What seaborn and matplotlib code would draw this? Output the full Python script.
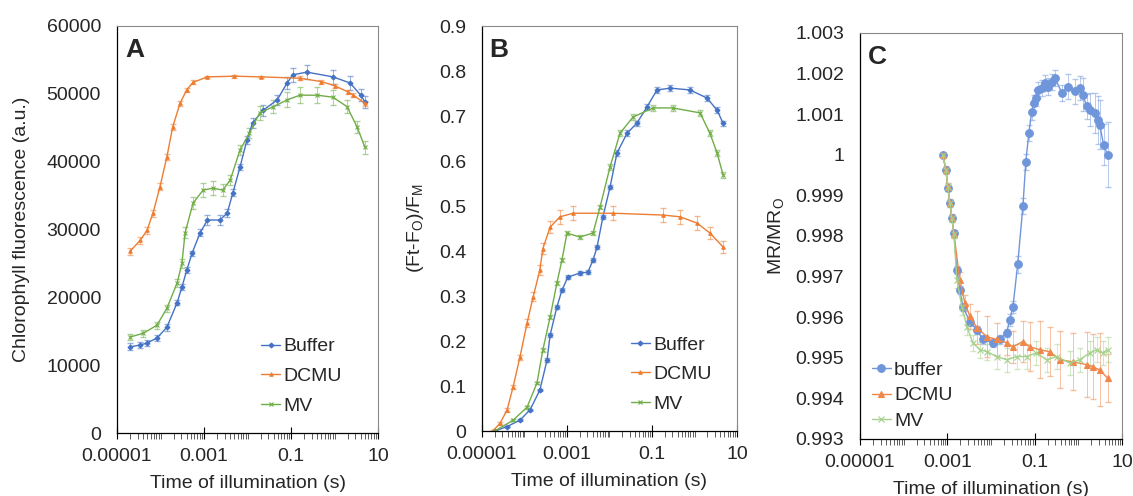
import numpy as np
import pandas as pd
import seaborn as sns
import matplotlib
matplotlib.use("Agg")
from matplotlib import pyplot as plt
from matplotlib import ticker

# ---- panel A : chlorophyll fluorescence (a.u.) ----
t_a_buffer = [2.0e-5, 3.4e-5, 4.9e-5, 8.3e-5, 1.4e-4, 2.4e-4, 3.1e-4, 4.0e-4, 5.3e-4, 8.1e-4,
              1.2e-3, 2.3e-3, 3.4e-3, 4.6e-3, 6.7e-3, 9.7e-3, 1.3e-2, 2.3e-2, 4.8e-2, 8.1e-2,
              0.11, 0.23, 0.92, 2.27, 4.0, 5.0]
a_buffer = [12700, 12970, 13270, 14000, 15600, 19200, 21500, 24000, 26500, 29500,
            31400, 31400, 32400, 35400, 39200, 43200, 45700, 47600, 49100, 51600,
            52800, 53200, 52500, 51600, 49800, 48800]
a_buffer_err = [500, 500, 500, 500, 500, 400, 400, 400, 400, 500,
                700, 700, 600, 500, 500, 600, 700, 800, 800, 900,
                1000, 1000, 1000, 1000, 900, 900]

t_a_dcmu = [2.0e-5, 3.4e-5, 4.9e-5, 6.7e-5, 9.7e-5, 1.4e-4, 1.9e-4, 2.8e-4, 4.0e-4, 5.6e-4,
            1.2e-3, 5.0e-3, 2.0e-2, 0.16, 0.5, 1.0, 2.0, 2.7, 5.0]
a_dcmu = [26800, 28400, 29900, 32400, 36300, 40700, 45100, 48600, 50600, 51700,
          52500, 52600, 52500, 52300, 51800, 51200, 50300, 49800, 48600]
a_dcmu_err = [500, 500, 500, 500, 500, 500, 500, 400, 300, 300,
              200, 200, 200, 300, 300, 300, 300, 300, 400]

t_a_mv = [2.0e-5, 4.0e-5, 8.3e-5, 1.4e-4, 2.4e-4, 3.1e-4, 3.66e-4, 5.6e-4, 9.5e-4, 1.6e-3,
          2.7e-3, 4.0e-3, 6.7e-3, 1.1e-2, 1.9e-2, 3.9e-2, 8.1e-2, 0.16, 0.40, 0.92,
          1.94, 3.3, 5.0]
a_mv = [14150, 14700, 15900, 18400, 22100, 25000, 29500, 33900, 35800, 36100,
        35800, 37300, 41700, 44200, 47200, 48100, 49100, 49800, 49800, 49500,
        48100, 45100, 42100]
a_mv_err = [500, 500, 500, 500, 600, 700, 800, 900, 1000, 1000,
            900, 800, 700, 700, 1000, 1000, 1100, 1200, 1200, 1100,
            1000, 900, 900]

# ---- panel B : (Ft-Fo)/Fm ----
t_b_buffer = [2.0e-5, 3.9e-5, 7.8e-5, 1.35e-4, 2.3e-4, 3.4e-4, 4.0e-4, 5.8e-4, 7.6e-4, 1.05e-3,
              2.0e-3, 3.1e-3, 4.1e-3, 5.1e-3, 7.0e-3, 1.03e-2, 1.5e-2, 2.6e-2, 4.4e-2, 7.6e-2,
              0.131, 0.27, 0.78, 1.97, 3.4, 4.7]
b_buffer = [0.0, 0.01, 0.024, 0.047, 0.091, 0.158, 0.213, 0.276, 0.313, 0.342,
            0.351, 0.353, 0.38, 0.409, 0.476, 0.542, 0.618, 0.662, 0.684, 0.72,
            0.758, 0.762, 0.758, 0.74, 0.713, 0.684]
b_buffer_err = [0.002, 0.002, 0.002, 0.003, 0.003, 0.004, 0.004, 0.004, 0.004, 0.005,
                0.005, 0.005, 0.005, 0.005, 0.005, 0.005, 0.006, 0.006, 0.006, 0.006,
                0.007, 0.007, 0.007, 0.007, 0.007, 0.006]

t_b_dcmu = [1.8e-5, 2.65e-5, 3.9e-5, 5.4e-5, 7.8e-5, 1.15e-4, 1.6e-4, 2.3e-4, 2.7e-4, 4.0e-4,
            6.8e-4, 1.4e-3, 1.2e-2, 0.18, 0.46, 1.15, 2.3, 4.7]
b_dcmu = [0.0, 0.017, 0.047, 0.098, 0.164, 0.24, 0.298, 0.358, 0.405, 0.453,
          0.476, 0.484, 0.484, 0.48, 0.476, 0.462, 0.44, 0.409]
b_dcmu_err = [0.002, 0.003, 0.004, 0.005, 0.006, 0.008, 0.010, 0.012, 0.012, 0.014,
              0.015, 0.016, 0.016, 0.016, 0.016, 0.015, 0.014, 0.013]

t_b_mv = [2.0e-5, 5.4e-5, 1.15e-4, 1.97e-4, 2.7e-4, 4.0e-4, 5.8e-4, 7.6e-4, 1.0e-3, 2.0e-3,
          4.1e-3, 6.0e-3, 1.03e-2, 1.77e-2, 3.6e-2, 0.106, 0.31, 1.35, 2.3, 3.4, 4.7]
b_mv = [0.0, 0.024, 0.053, 0.107, 0.18, 0.253, 0.329, 0.38, 0.44, 0.431,
        0.44, 0.498, 0.587, 0.662, 0.698, 0.718, 0.718, 0.707, 0.662, 0.618, 0.569]
b_mv_err = [0.002, 0.002, 0.003, 0.003, 0.004, 0.004, 0.004, 0.005, 0.005, 0.005,
            0.005, 0.005, 0.006, 0.006, 0.006, 0.006, 0.006, 0.006, 0.006, 0.006, 0.006]

# ---- panel C : MR/MRo ----
t_c_buffer = [7.9e-4, 9.3e-4, 1.03e-3, 1.15e-3, 1.27e-3, 1.42e-3, 1.66e-3, 1.94e-3, 2.27e-3, 3.3e-3,
              4.75e-3, 6.5e-3, 1.1e-2, 1.6e-2, 2.3e-2, 2.7e-2, 3.2e-2, 4.1e-2, 5.4e-2, 6.3e-2,
              7.4e-2, 8.6e-2, 9.6e-2, 0.106, 0.118, 0.146, 0.171, 0.2, 0.25, 0.29,
              0.42, 0.58, 0.83, 1.08, 1.27, 1.57, 1.83, 2.39, 2.8, 3.1, 3.8, 4.7]
c_buffer = [1.0, 0.99963, 0.99919, 0.99882, 0.99845, 0.99808, 0.99717, 0.99667, 0.99626, 0.99589,
            0.99569, 0.99545, 0.99537, 0.99545, 0.99562, 0.99594, 0.99626, 0.9973, 0.99873, 0.99983,
            1.00054, 1.00106, 1.00128, 1.0014, 1.0016, 1.00165, 1.00177, 1.00168, 1.0018, 1.0019,
            1.00153, 1.00168, 1.00156, 1.00165, 1.00148, 1.00119, 1.00111, 1.00103, 1.00086, 1.00074,
            1.00025, 1.0]
c_buffer_err = [0.00005, 0.00005, 0.00005, 0.00005, 0.00005, 0.00005, 0.0001, 0.0001, 0.0001, 0.0001,
                0.0001, 0.0001, 0.0001, 0.0001, 0.0001, 0.00015, 0.00015, 0.0002, 0.0002, 0.0002,
                0.0002, 0.0002, 0.0002, 0.0002, 0.0002, 0.0002, 0.0002, 0.0002, 0.0002, 0.0002,
                0.0002, 0.0003, 0.0003, 0.0003, 0.0004, 0.0003, 0.0004, 0.0005, 0.0006, 0.0006,
                0.0005, 0.0008]

t_c_dcmu = [7.9e-4, 9.3e-4, 1.03e-3, 1.15e-3, 1.27e-3, 1.42e-3, 1.94e-3, 2.53e-3, 3.3e-3, 4.75e-3,
            8.1e-3, 1.36e-2, 2.3e-2, 3.2e-2, 5.4e-2, 7.8e-2, 0.13, 0.22, 0.38, 0.75,
            1.57, 2.15, 3.1, 4.7]
c_dcmu = [1.0, 0.99963, 0.9992, 0.99882, 0.99845, 0.99805, 0.99692, 0.99635, 0.99602, 0.99574,
          0.99552, 0.99545, 0.99537, 0.99527, 0.9954, 0.99527, 0.9952, 0.99515, 0.99495, 0.9949,
          0.99483, 0.99478, 0.9947, 0.9945]
c_dcmu_err = [0.00005, 0.0001, 0.0001, 0.0001, 0.0001, 0.0001, 0.0002, 0.0002, 0.0003, 0.0004,
              0.0005, 0.0004, 0.0003, 0.0004, 0.0005, 0.0006, 0.0007, 0.0006, 0.0007, 0.0007,
              0.0008, 0.0008, 0.0009, 0.0006]

t_c_mv = [7.9e-4, 9.3e-4, 1.03e-3, 1.15e-3, 1.27e-3, 1.42e-3, 1.66e-3, 2.16e-3, 2.8e-3, 3.86e-3,
          5.6e-3, 8.1e-3, 1.36e-2, 2.3e-2, 3.9e-2, 6.6e-2, 0.11, 0.19, 0.32, 0.64,
          1.08, 1.83, 2.65, 3.6, 4.7]
c_mv = [1.0, 0.99963, 0.9992, 0.99882, 0.99845, 0.99805, 0.99692, 0.99626, 0.99577, 0.99537,
        0.9952, 0.99515, 0.99503, 0.99495, 0.99503, 0.99503, 0.99512, 0.99495, 0.99503, 0.99487,
        0.99495, 0.99512, 0.9952, 0.99512, 0.9952]
c_mv_err = [0.00005, 0.00005, 0.0001, 0.0001, 0.0001, 0.0001, 0.0002, 0.0002, 0.0002, 0.0002,
            0.0002, 0.0002, 0.0003, 0.0003, 0.0003, 0.0003, 0.0003, 0.0003, 0.0003, 0.0003,
            0.0003, 0.0003, 0.0003, 0.0003, 0.0003]

sns.set_style("white")
plt.rcParams['font.family'] = ['Liberation Sans', 'DejaVu Sans']

BLUE, ORANGE, GREEN = "#4472C4", "#ED7D31", "#70AD47"
C_BLUE, C_ORANGE, C_GREEN = "#6F95DA", "#F0874A", "#A5D18C"

fig = plt.figure(figsize=(11.33, 4.96), dpi=100)
ax_a = fig.add_axes([0.1033, 0.127, 0.2304, 0.8206])
ax_b = fig.add_axes([0.4254, 0.131, 0.2251, 0.8165])
ax_c = fig.add_axes([0.759, 0.115, 0.2312, 0.8185])


def draw(ax, t, y, err, color, marker, ms, label, lw=1.0, alpha_err=0.55):
    ax.errorbar(t, y, yerr=err, fmt='none', ecolor=color, elinewidth=0.7,
                capsize=2.5, alpha=alpha_err, zorder=1)
    df = pd.DataFrame({"t": t, "y": y})
    sns.lineplot(data=df, x="t", y="y", ax=ax, color=color, marker=marker,
                 markersize=ms, markeredgewidth=0.8, markeredgecolor=color,
                 linewidth=lw, label=label, zorder=2, errorbar=None)


def xfmt(v, pos):
    return f"{v:.5f}".rstrip('0').rstrip('.')


def style(ax, ymin, ymax, step, ylabel, letter, ylabelpad):
    ax.set_xscale("log")
    ax.set_xlim(1e-5, 10)
    ax.set_ylim(ymin, ymax)
    ax.set_yticks(np.arange(ymin, ymax + step / 2, step))
    ax.yaxis.set_major_formatter(ticker.FuncFormatter(lambda v, p: f"{round(v, 6):g}"))
    ax.xaxis.set_major_locator(ticker.FixedLocator([1e-5, 1e-3, 1e-1, 10]))
    ax.xaxis.set_minor_locator(ticker.LogLocator(base=10, subs=np.arange(1, 10), numticks=30))
    ax.xaxis.set_major_formatter(ticker.FuncFormatter(xfmt))
    ax.xaxis.set_minor_formatter(ticker.NullFormatter())
    ax.tick_params(axis='x', which='major', bottom=True, direction='inout', length=8, width=0.8,
                   labelsize=14, pad=7, color='black')
    ax.tick_params(axis='x', which='minor', bottom=True, direction='out', length=4, width=0.6,
                   color='#444444')
    ax.tick_params(axis='y', left=False, labelsize=14, pad=8)
    ax.set_xlabel("Time of illumination (s)", fontsize=14, labelpad=7)
    ax.set_ylabel(ylabel, fontsize=14, labelpad=ylabelpad)
    for side in ["top", "right"]:
        ax.spines[side].set_color("#8a8a8a")
        ax.spines[side].set_linewidth(0.8)
    for side in ["left", "bottom"]:
        ax.spines[side].set_color("black")
        ax.spines[side].set_linewidth(0.9)
    ax.text(0.03, 0.97, letter, transform=ax.transAxes, fontsize=19, fontweight='bold',
            va='top', ha='left')


draw(ax_a, t_a_buffer, a_buffer, a_buffer_err, BLUE, 'D', 2.5, "Buffer")
draw(ax_a, t_a_dcmu, a_dcmu, a_dcmu_err, ORANGE, '^', 2.5, "DCMU")
draw(ax_a, t_a_mv, a_mv, a_mv_err, GREEN, 'x', 3, "MV")
style(ax_a, 0, 60000, 10000, "Chlorophyll fluorescence (a.u.)", "A", 12)

draw(ax_b, t_b_buffer, b_buffer, b_buffer_err, BLUE, 'D', 2.5, "Buffer")
draw(ax_b, t_b_dcmu, b_dcmu, b_dcmu_err, ORANGE, '^', 2.5, "DCMU")
draw(ax_b, t_b_mv, b_mv, b_mv_err, GREEN, 'x', 3, "MV")
style(ax_b, 0, 0.9, 0.1, "(Ft-F$_\\mathregular{O}$)/F$_\\mathregular{M}$", "B", 9)

draw(ax_c, t_c_buffer, c_buffer, c_buffer_err, C_BLUE, 'o', 5.5, "buffer", alpha_err=0.5)
draw(ax_c, t_c_dcmu, c_dcmu, c_dcmu_err, C_ORANGE, '^', 5, "DCMU", alpha_err=0.5)
draw(ax_c, t_c_mv, c_mv, c_mv_err, C_GREEN, 'x', 4, "MV", alpha_err=0.5)
style(ax_c, 0.993, 1.003, 0.001, "MR/MR$_\\mathregular{O}$", "C", 6)

for ax, loc, anchor, spacing in [(ax_a, "lower right", (0.905, 0.016), 0.62),
                                 (ax_b, "lower right", (0.945, 0.016), 0.62),
                                 (ax_c, "lower left", (0.0, -0.007), 0.42)]:
    ax.legend(loc=loc, bbox_to_anchor=anchor, frameon=False, fontsize=14,
              handlelength=1.0, handletextpad=0.15, labelspacing=spacing, borderaxespad=0.2)

fig.savefig("out.png", dpi=100)
